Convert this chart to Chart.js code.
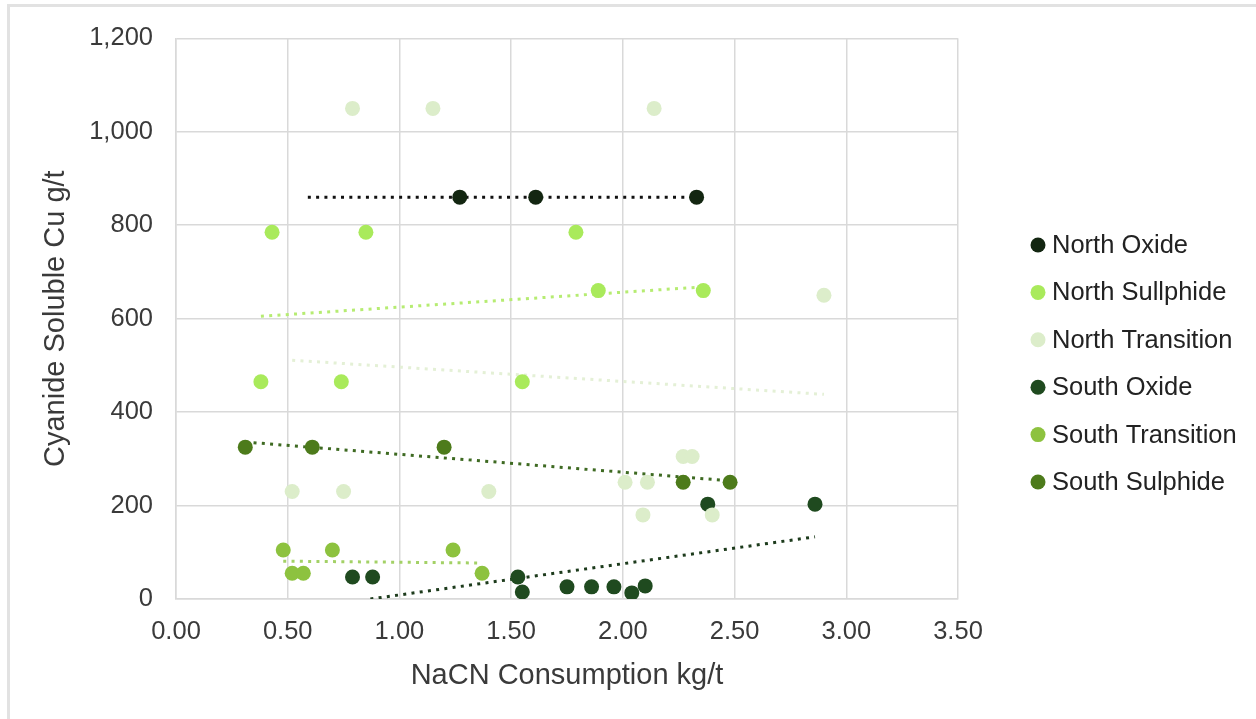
<!DOCTYPE html>
<html>
<head>
<meta charset="utf-8">
<script src="https://cdn.jsdelivr.net/npm/chart.js@4.4.1/dist/chart.umd.min.js"></script>
<style>
  html, body { margin: 0; padding: 0; background: #fff; }
  #wrap { position: relative; width: 1256px; height: 719px; overflow: hidden; }
  #frame { position: absolute; left: 7px; top: 4px; width: 1270px; height: 730px; border: 3px solid #e2e2e2; pointer-events: none; }
  canvas { position: absolute; left: 0; top: 0; }
</style>
</head>
<body>
<div id="wrap">
  <canvas id="chart" width="1256" height="719"></canvas>
  <div id="frame"></div>
</div>
<script>
const seriesNames = ['North Oxide', 'North Sullphide', 'North Transition', 'South Oxide', 'South Transition', 'South Sulphide'];
const pointColors = ['#132611', '#a9ea5b', '#dcedca', '#1f4a1f', '#8dc23f', '#4d7b1b'];
const trendColors = ['#111111', '#b6ec72', '#e4f0d6', '#1d3b1c', '#a3d166', '#3e6a22'];

// NaCN consumption (kg/t) and cyanide soluble Cu (g/t) per ore type
const northOxideX = [1.27, 1.61, 2.33];
const northOxideY = [860, 860, 860];
const northSulphideX = [0.43, 0.85, 1.79, 1.89, 2.36, 0.38, 0.74, 1.55];
const northSulphideY = [785, 785, 785, 660, 660, 465, 465, 465];
const northTransitionX = [0.79, 1.15, 2.14, 2.90, 0.52, 0.75, 1.40, 2.27, 2.31, 2.01, 2.11, 2.09, 2.40];
const northTransitionY = [1050, 1050, 1050, 650, 230, 230, 230, 305, 305, 250, 250, 180, 180];
const southOxideX = [0.79, 0.88, 1.53, 1.55, 1.75, 1.86, 1.96, 2.04, 2.10, 2.38, 2.86];
const southOxideY = [47, 47, 47, 15, 26, 26, 26, 13, 28, 203, 203];
const southTransitionX = [0.48, 0.70, 1.24, 0.52, 0.57, 1.37];
const southTransitionY = [105, 105, 105, 55, 55, 55];
const southSulphideX = [0.31, 0.61, 1.20, 2.27, 2.48];
const southSulphideY = [325, 325, 325, 250, 250];

// linear trendline end points per series
const trendFromX = [0.59, 0.38, 0.52, 0.87, 0.48, 0.31];
const trendFromY = [860, 605, 511, 0, 81, 336];
const trendToX = [2.33, 2.36, 2.90, 2.86, 1.37, 2.48];
const trendToY = [860, 668, 438, 133, 77, 253];

const xTicks = [0, 0.5, 1, 1.5, 2, 2.5, 3, 3.5];
const yTicks = [0, 200, 400, 600, 800, 1000, 1200];

const seriesX = [northOxideX, northSulphideX, northTransitionX, southOxideX, southTransitionX, southSulphideX];
const seriesY = [northOxideY, northSulphideY, northTransitionY, southOxideY, southTransitionY, southSulphideY];

const FONT = '"Liberation Sans", Arial, sans-serif';
const TEXT = '#3a3a3a';
const GRID = '#d9d9d9';

let datasets = [];
seriesNames.forEach((name, i) => {
    datasets.push({
        label: name,
        data: seriesX[i].map((x, j) => ({ x: x, y: seriesY[i][j] })),
        backgroundColor: pointColors[i],
        borderColor: pointColors[i],
        borderWidth: 0,
        pointRadius: 7.5,
        pointHoverRadius: 7.5,
        order: 0
    });
});
seriesNames.forEach((name, i) => {
    datasets.push({
        label: name + ' trend',
        type: 'line',
        data: [{ x: trendFromX[i], y: trendFromY[i] }, { x: trendToX[i], y: trendToY[i] }],
        borderColor: trendColors[i],
        borderWidth: 3,
        borderDash: [3, 5.3],
        pointRadius: 0,
        fill: false,
        order: 1
    });
});

// legend on the right, one row per ore type
const sideLegend = {
    id: 'sideLegend',
    afterDraw(c) {
        const ctx = c.ctx;
        ctx.save();
        ctx.font = '25.5px ' + FONT;
        ctx.textBaseline = 'middle';
        ctx.textAlign = 'left';
        seriesNames.forEach((name, i) => {
            const y = 245 + i * 47.4;
            ctx.fillStyle = pointColors[i];
            ctx.beginPath();
            ctx.arc(1038, y, 7.5, 0, Math.PI * 2);
            ctx.fill();
            ctx.fillStyle = '#222222';
            ctx.fillText(name, 1052, y + 1);
        });
        ctx.restore();
    }
};

const chart = new Chart(document.getElementById('chart'), {
    type: 'scatter',
    data: { datasets: datasets },
    plugins: [sideLegend],
    options: {
        responsive: false,
        animation: false,
        layout: { padding: { top: 36, right: 298, left: 0, bottom: 0 } },
        plugins: {
            legend: { display: false },
            tooltip: { enabled: false }
        },
        scales: {
            x: {
                type: 'linear',
                min: 0,
                max: 3.5,
                afterBuildTicks: s => { s.ticks = xTicks.map(v => ({ value: v })); },
                afterFit: s => { s.height = 120; },
                ticks: {
                    callback: v => v.toFixed(2),
                    color: TEXT,
                    font: { family: FONT, size: 25.5 },
                    padding: 18,
                    maxRotation: 0
                },
                grid: { color: GRID, lineWidth: 1.5, drawTicks: false },
                border: { color: GRID, width: 1.5 },
                title: {
                    display: true,
                    text: 'NaCN Consumption kg/t',
                    color: TEXT,
                    font: { family: FONT, size: 29 },
                    padding: { top: 0, bottom: 26 }
                }
            },
            y: {
                min: 0,
                max: 1200,
                afterBuildTicks: s => { s.ticks = yTicks.map(v => ({ value: v })); },
                afterFit: s => { s.width = 176; },
                ticks: {
                    callback: v => v.toLocaleString('en-US'),
                    color: TEXT,
                    font: { family: FONT, size: 25.5 },
                    padding: 23
                },
                grid: { color: GRID, lineWidth: 1.5, drawTicks: false },
                border: { color: GRID, width: 1.5 },
                title: {
                    display: true,
                    text: 'Cyanide Soluble Cu g/t',
                    color: TEXT,
                    font: { family: FONT, size: 29 },
                    padding: { top: 39, bottom: 0 }
                }
            }
        }
    }
});
</script>
</body>
</html>
